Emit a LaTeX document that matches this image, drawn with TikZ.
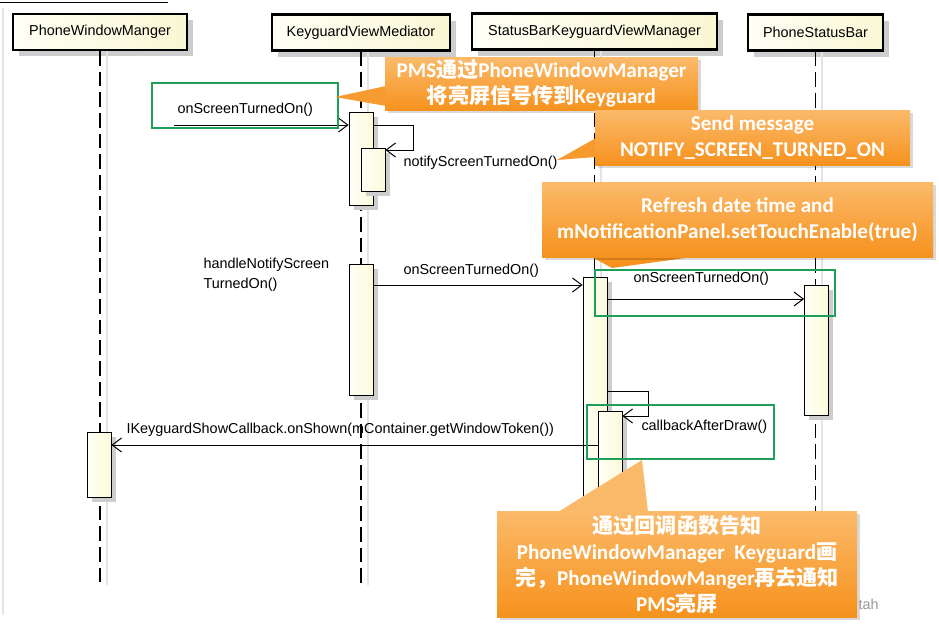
\documentclass[tikz,border=0pt]{standalone}
\usepackage{fontspec}
\setmainfont{Liberation Sans}
\newfontfamily\callfont{Carlito}
\newfontfamily\cjk{Noto Sans CJK SC}
\usetikzlibrary{arrows.meta}

\definecolor{hdrleft}{RGB}{255,255,246}
\definecolor{hdrright}{RGB}{250,247,212}
\definecolor{actleft}{RGB}{255,255,248}
\definecolor{actright}{RGB}{252,250,218}
\definecolor{shadowgray}{RGB}{205,205,205}
\definecolor{lifeshadow}{RGB}{228,228,228}
\definecolor{markgreen}{RGB}{30,160,90}
\definecolor{calltop}{RGB}{251,186,106}
\definecolor{callbot}{RGB}{246,146,30}

\tikzset{every picture/.style={line width=0.75pt}}
\tikzset{
  header/.style={draw, line width=1.6pt, left color=hdrleft, right color=hdrright,
    minimum height=27pt, inner sep=0.75pt, font=\fontsize{10.8}{12}\selectfont,
    preaction={fill=shadowgray, transform canvas={xshift=4.5pt,yshift=-4.5pt}}},
  act/.style={draw, line width=0.6pt, left color=actleft, right color=actright,
    minimum width=18pt, inner sep=0pt,
    preaction={fill=shadowgray, transform canvas={xshift=3.5pt,yshift=-3.5pt}}},
  lifeline/.style={line width=1pt, dash pattern=on 11pt off 4.5pt,
    preaction={draw=lifeshadow, solid, line width=1.5pt, transform canvas={xshift=5pt}}},
  msg/.style={-{Straight Barb[length=7pt,width=10.5pt]}, line width=0.75pt},
  markbox/.style={draw=markgreen, line width=1.5pt},
  callout/.style={top color=calltop, bottom color=callbot,
    preaction={fill=black, opacity=0.15, transform canvas={xshift=2pt,yshift=-2pt}}},
  calltext/.style={text=white, align=center, inner sep=0.75pt,
    font=\callfont\bfseries\fontsize{15.8}{19.5}\selectfont},
  lbl/.style={inner sep=0.75pt, align=left, font=\fontsize{10.8}{15}\selectfont}
}

\begin{document}
\begin{tikzpicture}[x=0.75pt,y=0.75pt,yscale=-1,xscale=1]
\useasboundingbox (0,0) rectangle (939,625);

%Straight Lines: frame
\draw (0,2) -- (168,2);
\draw [color=lifeshadow, line width=1pt] (3,8) -- (3,615);

%Shape: lifeline heads
\node[header, minimum width=130.5pt] (pwm) at (100,32) {PhoneWindowManger};
\node[header, minimum width=133.5pt] (kvm) at (361,32.5) {KeyguardViewMediator};
\node[header, minimum width=183.75pt] (sbk) at (594.5,31.5) {StatusBarKeyguardViewManager};
\node[header, minimum width=101.25pt] (psb) at (815.5,32.5) {PhoneStatusBar};

%Straight Lines: lifelines
\coordinate (lifeend) at (0,585);
\draw [lifeline] (pwm.south) -- (pwm.south |- lifeend);
\draw [lifeline] (kvm.south) -- (kvm.south |- lifeend);
\draw [lifeline] (sbk.south) -- (sbk.south |- lifeend);
\draw [lifeline] (psb.south) -- (psb.south |- lifeend);

%Shape: activations
\node[act, minimum height=69.75pt] (kvmA1) at (361,158.5) {};
\node[act, minimum height=32.25pt] (kvmA2) at (373,169.5) {};
\node[act, minimum height=98.25pt] (kvmA3) at (361,329.5) {};
\node[act, minimum height=249.75pt] (sbkA1) at (595,443.5) {};
\node[act, minimum height=149.25pt] (sbkA2) at (610,510.5) {};
\node[act, minimum height=97.5pt] (psbA1) at (816.5,350) {};
\node[act, minimum height=48.75pt] (pwmA1) at (99,464.5) {};

%Straight Lines: messages
\coordinate (m1from) at (174,125);
\draw [msg] (m1from) -- (kvmA1.west |- m1from);
\coordinate (s1a) at (413,125);
\coordinate (s1b) at (413,150);
\draw [msg] (kvmA1.east |- s1a) -- (s1a) -- (s1b) -- (kvmA2.east |- s1b);
\coordinate (m2y) at (0,285);
\draw [msg] (kvmA3.east |- m2y) -- (sbkA1.west |- m2y);
\coordinate (m3y) at (0,299);
\draw [msg] (sbkA1.east |- m3y) -- (psbA1.west |- m3y);
\coordinate (s2a) at (648,391);
\coordinate (s2b) at (648,416);
\draw [msg] (sbkA1.east |- s2a) -- (s2a) -- (s2b) -- (sbkA2.east |- s2b);
\coordinate (m4y) at (0,445);
\draw [msg] (sbkA2.west |- m4y) -- (pwmA1.east |- m4y);

% Text Node
\node[lbl, anchor=west] (lblOn1) at (176,110) {onScreenTurnedOn()};
% Text Node
\node[lbl, anchor=west] (lblNotify) at (402,163) {notifyScreenTurnedOn()};
% Text Node
\node[lbl, anchor=west] (lblHandle) at (202,275) {handleNotifyScreen\\TurnedOn()};
% Text Node
\node[lbl, anchor=west] (lblOn2) at (402,271) {onScreenTurnedOn()};
% Text Node
\node[lbl, anchor=west] (lblOn3) at (632,279) {onScreenTurnedOn()};
% Text Node
\node[lbl, anchor=west] (lblCallback) at (640,427) {callbackAfterDraw()};
% Text Node
\node[lbl, anchor=west] (lblShown) at (125,430) {IKeyguardShowCallback.onShown(mContainer.getWindowToken())};

%Shape: highlight boxes
\draw [markbox] (152,83) rectangle (338,128);
\draw [markbox] (595,270) rectangle (835,316);
\draw [markbox] (587,405) rectangle (774,459);

%Shape: callouts
\fill [color=callbot!75!calltop] (386,86) -- (335,97) -- (386,106) -- cycle;
\fill [callout] (385,57) rectangle (698,110);
\node[calltext] (note1) at (541.5,83.5) {PMS{\cjk 通过}PhoneWindowManager\\{\cjk 将亮屏信号传到}Keyguard};

\fill [color=callbot!80!calltop] (596,138) -- (557,160) -- (596,157) -- cycle;
\fill [callout] (595,110) rectangle (910,165);
\node[calltext] (note2) at (752.5,138) {Send message\\NOTIFY\_SCREEN\_TURNED\_ON};

\fill [color=callbot] (590,256) -- (612,268) -- (700,256) -- cycle;
\fill [callout] (542,182) rectangle (933,257);
\node[calltext] (note3) at (737.5,220) {Refresh date time and\\mNotificationPanel.setTouchEnable(true)};

\fill [color=calltop] (558,512) -- (642,460) -- (648,512) -- cycle;
\fill [callout] (497,511) rectangle (857,617);
\node[calltext] (note4) at (677,565) {{\cjk 通过回调函数告知}\\PhoneWindowManager\ \ Keyguard{\cjk 画}\\{\cjk 完，}PhoneWindowManger{\cjk 再去通知}\\PMS{\cjk 亮屏}};

% Text Node
\node[lbl, anchor=west, text=black!40] (astah) at (857,604) {tah};

\end{tikzpicture}
\end{document}
